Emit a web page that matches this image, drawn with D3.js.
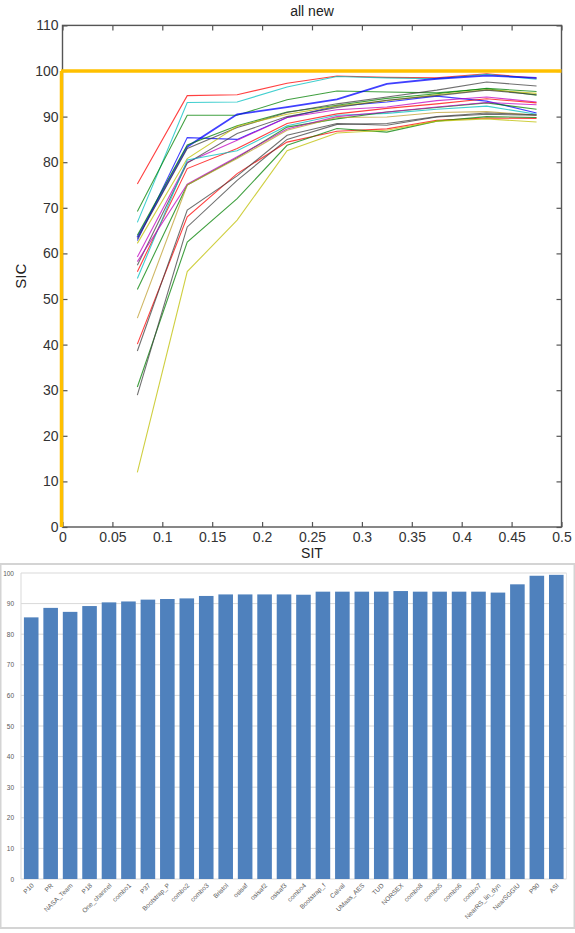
<!DOCTYPE html>
<head>
<meta charset="utf-8">
<title>all new</title>
<script src="https://d3js.org/d3.v7.min.js"></script>
<style>
  body { margin: 0; background: #fff; }
  svg { display: block; font-family: "Liberation Sans", Arial, sans-serif; }
</style>
</head>
<body>
<div id="chart"></div>
<script>
// ---- top chart data (SIC vs SIT, one curve per algorithm) ----
var sitPoints = [0.075, 0.125, 0.175, 0.225, 0.275, 0.325, 0.375, 0.425, 0.475];
var xTicks = [0, 0.05, 0.1, 0.15, 0.2, 0.25, 0.3, 0.35, 0.4, 0.45, 0.5];
var yTicks = [0, 10, 20, 30, 40, 50, 60, 70, 80, 90, 100, 110];
var referenceSIC = 100;

var lineColors = ["#ff0000", "#00bfbf", "#008000", "#0000ff", "#0000ff", "#008000", "#404040",
                  "#bfbf00", "#bf00bf", "#404040", "#ff0000", "#00bfbf", "#008000", "#bf00bf",
                  "#bf9f30", "#ff0000", "#404040", "#008000", "#404040", "#bfbf00"];
var sicCurves = [
  [75.2, 94.6, 94.8, 97.3, 98.9, 98.6, 98.5, 99.4, 98.4],
  [66.8, 93.1, 93.2, 96.5, 98.8, 98.5, 98.3, 99.3, 98.2],
  [69.2, 90.3, 90.3, 93.7, 95.6, 95.4, 95.2, 96.1, 94.7],
  [63.5, 83.4, 90.5, 92.1, 93.8, 97.2, 98.3, 99.0, 98.5],
  [62.8, 85.4, 85.0, 89.8, 92.3, 93.2, 94.5, 93.4, 90.8],
  [64.0, 83.8, 88.0, 91.0, 92.5, 94.0, 95.0, 96.2, 95.5],
  [63.2, 83.0, 87.6, 90.9, 92.8, 94.3, 95.8, 97.6, 96.7],
  [62.2, 80.8, 87.9, 90.5, 92.3, 93.5, 94.8, 95.9, 95.1],
  [59.2, 80.0, 84.8, 89.8, 91.5, 92.1, 93.5, 94.3, 93.2],
  [57.4, 79.8, 86.3, 90.0, 92.0, 93.6, 94.6, 95.8, 94.8],
  [56.0, 78.6, 83.0, 88.5, 90.6, 91.8, 92.8, 93.9, 93.0],
  [54.5, 80.5, 82.5, 88.0, 90.3, 90.7, 91.6, 92.3, 90.5],
  [52.1, 75.0, 81.0, 87.7, 89.5, 91.0, 92.0, 93.0, 91.6],
  [58.2, 75.2, 81.2, 87.3, 90.0, 91.0, 92.1, 93.1, 92.6],
  [45.8, 75.0, 80.8, 87.0, 89.8, 89.9, 90.9, 91.1, 90.3],
  [40.1, 68.0, 77.5, 84.4, 86.8, 87.3, 89.2, 89.7, 89.6],
  [38.6, 69.5, 77.0, 85.9, 88.5, 88.1, 89.9, 90.5, 90.3],
  [30.7, 62.5, 72.0, 83.7, 87.4, 86.6, 89.0, 90.0, 89.8],
  [28.9, 65.8, 76.0, 85.0, 88.3, 88.5, 90.0, 90.8, 90.4],
  [12.0, 56.0, 67.3, 82.5, 86.4, 87.0, 89.0, 89.5, 88.8]
];

// ---- bottom chart data (mean SIC per algorithm) ----
var algNames = ["P10", "PR", "NASA_Team", "P18", "One_channel", "combo1", "P37", "Bootstrap_P",
                "combo2", "combo3", "Bristol", "osisaf", "osisaf2", "osisaf3", "combo4", "Bootstrap_f",
                "Calval", "UMass_AES", "TUD", "NORSEX", "combo8", "combo5", "combo6", "combo7",
                "NearRS_lin_dyn", "NearSGGIU", "P90", "ASI"];
var algSIC = [85.5, 88.6, 87.3, 89.2, 90.4, 90.7, 91.3, 91.5, 91.7, 92.5, 93.0, 93.0, 93.0, 93.0,
              92.9, 93.9, 93.9, 93.9, 93.9, 94.1, 93.9, 93.9, 93.9, 93.9, 93.6, 96.3, 99.1, 99.4];
var barTicks = [0, 10, 20, 30, 40, 50, 60, 70, 80, 90, 100];

var svg = d3.select("#chart").append("svg")
    .attr("width", 575)
    .attr("height", 933);

// ================= top chart =================
var x = d3.scaleLinear().domain([0, 0.5]).range([62.5, 561.5]);
var y = d3.scaleLinear().domain([0, 110]).range([527, 25.4]);

var topChart = svg.append("g");

// curves
var line = d3.line()
    .x(function(d, i) { return x(sitPoints[i]); })
    .y(function(d) { return y(d); });

topChart.append("g")
  .selectAll("path")
  .data(sicCurves)
  .enter().append("path")
    .attr("d", line)
    .attr("fill", "none")
    .attr("stroke", function(d, i) { return lineColors[i]; })
    .attr("stroke-width", function(d, i) { return i == 3 ? 1.8 : 1.1; })
    .attr("stroke-opacity", 0.75);

// axes (inward ticks on all four sides)
var axisColor = "#555";
function styleAxis(g) {
  g.select(".domain").remove();
  g.selectAll(".tick line").attr("stroke", axisColor).attr("stroke-width", 1.2);
  g.selectAll(".tick text").attr("fill", "#333").style("font-size", "14px");
}
topChart.append("g")
  .attr("transform", "translate(0," + y(0) + ")")
  .call(d3.axisBottom(x).tickValues(xTicks).tickSize(-5).tickPadding(5)
        .tickFormat(function(d) { return d; }))
  .call(styleAxis);
topChart.append("g")
  .attr("transform", "translate(0," + y(110) + ")")
  .call(d3.axisTop(x).tickValues(xTicks).tickSize(-5).tickFormat(""))
  .call(styleAxis);
topChart.append("g")
  .attr("transform", "translate(" + x(0) + ",0)")
  .call(d3.axisLeft(y).tickValues(yTicks).tickSize(-5).tickPadding(4))
  .call(styleAxis);
topChart.append("g")
  .attr("transform", "translate(" + x(0.5) + ",0)")
  .call(d3.axisRight(y).tickValues(yTicks).tickSize(-5).tickFormat(""))
  .call(styleAxis);

// frame
topChart.append("rect")
  .attr("x", x(0)).attr("y", y(110))
  .attr("width", x(0.5) - x(0)).attr("height", y(0) - y(110))
  .attr("fill", "none").attr("stroke", axisColor).attr("stroke-width", 1.4);

// orange reference lines (drawn over the frame)
topChart.append("line")
  .attr("x1", x(0) - 1.5).attr("x2", x(0.5))
  .attr("y1", y(referenceSIC)).attr("y2", y(referenceSIC))
  .attr("stroke", "#ffc000").attr("stroke-width", 3.5);
topChart.append("line")
  .attr("x1", x(0) - 1).attr("x2", x(0) - 1)
  .attr("y1", y(0)).attr("y2", y(referenceSIC))
  .attr("stroke", "#ffc000").attr("stroke-width", 3.5);

topChart.append("text")
  .attr("x", (x(0) + x(0.5)) / 2).attr("y", 16)
  .attr("text-anchor", "middle").attr("fill", "#222")
  .style("font-size", "14px")
  .text("all new");
topChart.append("text")
  .attr("x", (x(0) + x(0.5)) / 2).attr("y", 558)
  .attr("text-anchor", "middle").attr("fill", "#222")
  .style("font-size", "14px")
  .text("SIT");
topChart.append("text")
  .attr("transform", "translate(26," + y(55) + ")rotate(-90)")
  .attr("text-anchor", "middle").attr("fill", "#222")
  .style("font-size", "15px")
  .text("SIC");

// ================= bottom chart =================
var bottomChart = svg.append("g");

bottomChart.append("rect")
  .attr("x", 0.5).attr("y", 564).attr("width", 574).attr("height", 364)
  .attr("fill", "#fff").attr("stroke", "#d4d4d4").attr("stroke-width", 2);

var xb = d3.scaleBand().domain(algNames).range([21, 566.5]).paddingInner(0.25).paddingOuter(0.15);
var yb = d3.scaleLinear().domain([0, 100]).range([879, 573]);

// grid
bottomChart.append("g")
  .selectAll("line")
  .data(barTicks)
  .enter().append("line")
    .attr("x1", 21).attr("x2", 566.5)
    .attr("y1", function(d) { return yb(d); })
    .attr("y2", function(d) { return yb(d); })
    .attr("stroke", "#d9d9d9").attr("stroke-width", 1);
bottomChart.append("line")
  .attr("x1", 21).attr("x2", 21).attr("y1", yb(100)).attr("y2", yb(0))
  .attr("stroke", "#d9d9d9");
bottomChart.append("line")
  .attr("x1", 566.5).attr("x2", 566.5).attr("y1", yb(100)).attr("y2", yb(0))
  .attr("stroke", "#e6e6e6");

bottomChart.append("g")
  .selectAll("rect")
  .data(algSIC)
  .enter().append("rect")
    .attr("x", function(d, i) { return xb(algNames[i]); })
    .attr("y", function(d) { return yb(d); })
    .attr("width", xb.bandwidth())
    .attr("height", function(d) { return yb(0) - yb(d); })
    .attr("fill", "#4f81bd");

bottomChart.append("g")
  .attr("transform", "translate(21,0)")
  .call(d3.axisLeft(yb).tickValues(barTicks).tickSize(0).tickPadding(7))
  .call(function(g) {
    g.select(".domain").remove();
    g.selectAll("text").attr("fill", "#595959").style("font-size", "6.5px");
  });

bottomChart.append("g")
  .attr("transform", "translate(0," + yb(0) + ")")
  .call(d3.axisBottom(xb).tickSize(0).tickPadding(0))
  .call(function(g) {
    g.select(".domain").remove();
    g.selectAll("text")
      .attr("fill", "#595959")
      .style("font-size", "6.5px")
      .attr("text-anchor", "end")
      .attr("dy", 0)
      .attr("transform", "translate(3,7)rotate(-45)");
  });
</script>
</body>
